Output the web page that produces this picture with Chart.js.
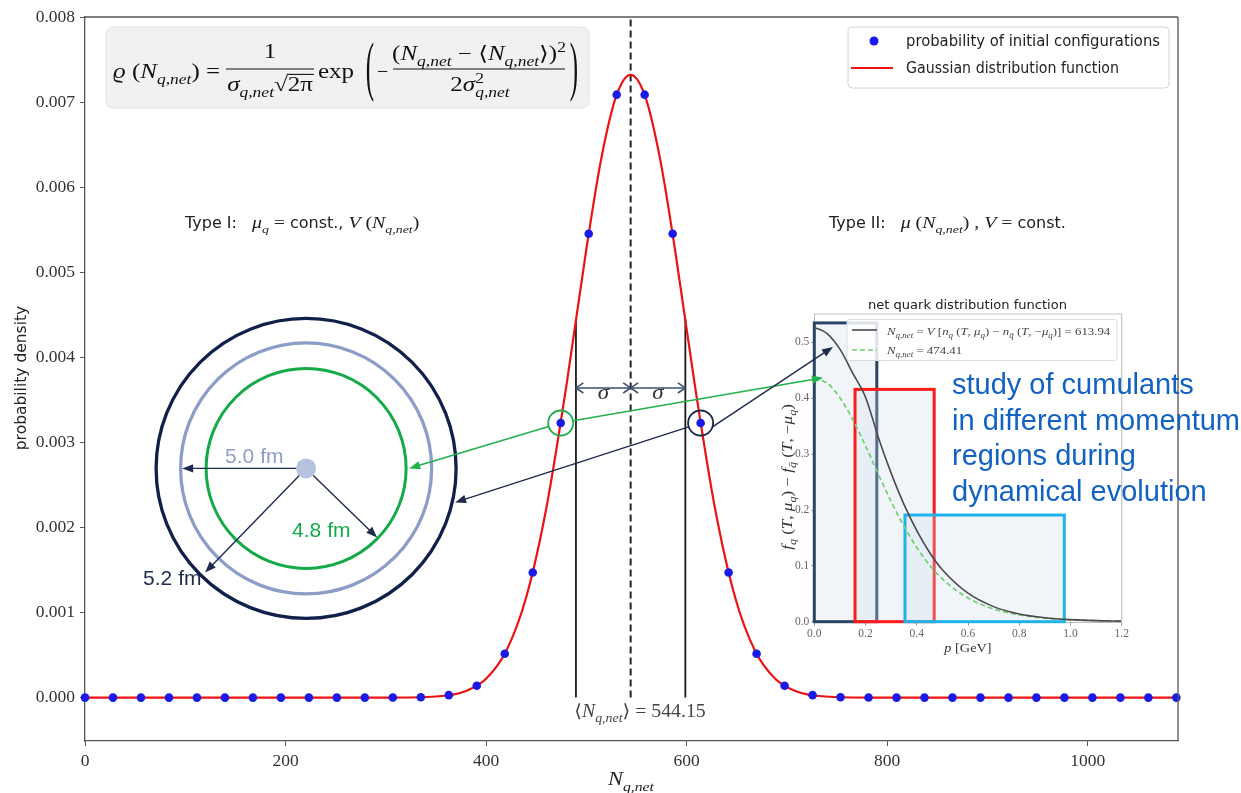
<!DOCTYPE html>
<html>
<head>
<meta charset="utf-8">
<script src="https://cdn.jsdelivr.net/npm/chart.js@4.4.0/dist/chart.umd.min.js"></script>
<style>
  html, body { margin: 0; padding: 0; background: #fff; }
  #wrap { position: relative; width: 1241px; height: 793px; overflow: hidden; background: #fff; }
  #inset { position: absolute; left: 775px; top: 290px; }
  #main { position: absolute; left: 0; top: 0; }
</style>
</head>
<body>
<div id="wrap">
  <canvas id="inset" width="360" height="370"></canvas>
  <canvas id="main" width="1241" height="793"></canvas>
</div>
<script>
// ---- main figure: net-quark-number distribution of the initial configurations ----
const nValues = [0.01, 27.92, 55.82, 83.73, 111.63, 139.54, 167.45, 195.35, 223.26, 251.16,
  279.07, 306.98, 334.88, 362.79, 390.69, 418.60, 446.51, 474.41, 502.32, 530.22,
  558.13, 586.04, 613.94, 641.85, 669.75, 697.66, 725.57, 753.47, 781.38, 809.28,
  837.19, 865.10, 893.00, 920.91, 948.81, 976.72, 1004.63, 1032.53, 1060.44, 1088.34];
const probValues = [0, 0, 0, 0, 0, 0, 0, 0, 0, 0,
  0, 0.0000006, 0.0000046, 0.0000288, 0.000139, 0.000515, 0.001471, 0.003228, 0.005453, 0.007087,
  0.007087, 0.005453, 0.003228, 0.001471, 0.000515, 0.000139, 0.0000288, 0.0000046, 0.0000006, 0,
  0, 0, 0, 0, 0, 0, 0, 0, 0, 0];
const gaussX = [0, 200, 300, 350, 380, 400, 420, 440, 460, 480, 500, 515, 530, 544.15,
  558.3, 573.3, 588.3, 608.3, 628.3, 648.3, 668.3, 688.3, 708.3, 738.3, 788.3, 900, 1090];
const gaussY = [0, 0, 0.0000003, 0.0000129, 0.0000785, 0.0002216, 0.0005466, 0.0011793, 0.0022224,
  0.0036615, 0.0052726, 0.0063443, 0.0070777, 0.0073200, 0.0070777, 0.0063443, 0.0052726,
  0.0036615, 0.0022224, 0.0011793, 0.0005466, 0.0002216, 0.0000785, 0.0000129, 0.0000003, 0, 0];
const xTicks = [0, 200, 400, 600, 800, 1000];
const yTicks = [0, 0.001, 0.002, 0.003, 0.004, 0.005, 0.006, 0.007, 0.008];
const meanN = 544.15;
const sigmaBounds = [489.6, 598.7];
const sigmaTop = 0.00445;
const sigmaArrowP = 0.00364;
const circledN = [474.41, 613.94];
const circledP = [0.003228, 0.003228];
const diagramN = 220.5;      // centre of the fireball sketch, in axis units
const diagramP = 0.002694;

// ---- inset: net quark distribution function ----
const momentum = [0, 0.05, 0.1, 0.15, 0.2, 0.25, 0.3, 0.35, 0.4, 0.45, 0.5, 0.6, 0.7, 0.8, 0.9, 1.0, 1.1, 1.2];
const fNet613 = [0.527, 0.516, 0.488, 0.445, 0.402, 0.33, 0.266, 0.21, 0.163, 0.124, 0.093, 0.051, 0.027, 0.0138, 0.0071, 0.0037, 0.0019, 0.0010];
const fNet474 = [0.436, 0.427, 0.401, 0.362, 0.315, 0.264, 0.215, 0.171, 0.133, 0.1015, 0.0765, 0.0424, 0.0228, 0.0121, 0.0064, 0.0034, 0.0018, 0.0009];
const pTicks = [0, 0.2, 0.4, 0.6, 0.8, 1.0, 1.2];
const fTicks = [0, 0.1, 0.2, 0.3, 0.4, 0.5];
const regionLo = [0, 0.159, 0.354];
const regionHi = [0.244, 0.468, 0.976];
const regionTop = [0.535, 0.416, 0.191];
const regionColor = ['#2a4468', '#ff1a1a', '#1fb3ec'];

const SERIF = "'Liberation Serif', 'DejaVu Serif', serif";
const SANS = "'DejaVu Sans', sans-serif";
const ARIAL = "'Liberation Sans', Arial, sans-serif";

// ---------- small drawing helpers ----------
// Math runs: italic ('i') / roman ('r') serif, or sans ('s'); d = 'sub' | 'sup'; nw = no advance.
// hs widens the serif glyphs so they get the proportions of a TeX math font.
function fontFor(p, size) {
  const s = size * (p.d ? 0.7 : 1);
  const f = p.f || 'i';
  if (f === 'i') return 'italic ' + s + 'px ' + SERIF;
  if (f === 'r') return s + 'px ' + SERIF;
  return s + 'px ' + SANS;
}
function partScale(p, hs) { return (p.f === 's') ? 1 : hs; }
function richWidth(ctx, parts, size, hs) {
  let w = 0;
  parts.forEach(p => {
    ctx.font = fontFor(p, size);
    if (!p.nw) w += ctx.measureText(p.t).width * partScale(p, hs) + (p.gap || 0);
  });
  return w;
}
function drawRich(ctx, parts, x, y, size, color, align, hs) {
  hs = hs || 1;
  const w = richWidth(ctx, parts, size, hs);
  let cx = align === 'center' ? x - w / 2 : (align === 'right' ? x - w : x);
  ctx.save();
  ctx.fillStyle = color; ctx.textAlign = 'left'; ctx.textBaseline = 'alphabetic';
  const pos = [];
  parts.forEach(p => {
    ctx.font = fontFor(p, size);
    const k = partScale(p, hs);
    const dy = p.d === 'sub' ? size * 0.3 : (p.d === 'sup' ? -size * 0.42 : 0);
    ctx.save(); ctx.translate(cx, y + dy); ctx.scale(k, 1); ctx.fillText(p.t, 0, 0); ctx.restore();
    const tw = ctx.measureText(p.t).width * k;
    pos.push([cx, tw]);
    if (!p.nw) cx += tw + (p.gap || 0);
  });
  ctx.restore();
  return pos;
}
function fitText(ctx, text, x, y, font, width, color) {
  ctx.save();
  ctx.font = font; ctx.fillStyle = color; ctx.textAlign = 'left'; ctx.textBaseline = 'alphabetic';
  const w = ctx.measureText(text).width;
  ctx.translate(x, y);
  ctx.scale(width / w, 1);
  ctx.fillText(text, 0, 0);
  ctx.restore();
}
function seg(ctx, x1, y1, x2, y2) {
  ctx.beginPath(); ctx.moveTo(x1, y1); ctx.lineTo(x2, y2); ctx.stroke();
}
function chevron(ctx, fx, fy, tx, ty, len) {
  const a = Math.atan2(ty - fy, tx - fx);
  const s = 0.6;
  ctx.beginPath();
  ctx.moveTo(tx - len * Math.cos(a - s), ty - len * Math.sin(a - s));
  ctx.lineTo(tx, ty);
  ctx.lineTo(tx - len * Math.cos(a + s), ty - len * Math.sin(a + s));
  ctx.stroke();
}
function arrow(ctx, fx, fy, tx, ty, color, lw) {
  const a = Math.atan2(ty - fy, tx - fx);
  const len = 11, hw = 4.2;
  ctx.save();
  ctx.strokeStyle = color; ctx.fillStyle = color; ctx.lineWidth = lw;
  seg(ctx, fx, fy, tx - (len - 2) * Math.cos(a), ty - (len - 2) * Math.sin(a));
  ctx.beginPath();
  ctx.moveTo(tx, ty);
  ctx.lineTo(tx - len * Math.cos(a) + hw * Math.sin(a), ty - len * Math.sin(a) - hw * Math.cos(a));
  ctx.lineTo(tx - len * Math.cos(a) - hw * Math.sin(a), ty - len * Math.sin(a) + hw * Math.cos(a));
  ctx.closePath(); ctx.fill();
  ctx.restore();
}
function roundRect(ctx, x, y, w, h, r) {
  ctx.beginPath();
  ctx.moveTo(x + r, y); ctx.lineTo(x + w - r, y); ctx.quadraticCurveTo(x + w, y, x + w, y + r);
  ctx.lineTo(x + w, y + h - r); ctx.quadraticCurveTo(x + w, y + h, x + w - r, y + h);
  ctx.lineTo(x + r, y + h); ctx.quadraticCurveTo(x, y + h, x, y + h - r);
  ctx.lineTo(x, y + r); ctx.quadraticCurveTo(x, y, x + r, y); ctx.closePath();
}
const QNET = { t: 'q,net', d: 'sub' };

// ---------- inset chart ----------
const insetDecor = {
  id: 'insetDecor',
  beforeDatasetsDraw(chart) {
    const { ctx, scales: { x, y } } = chart;
    ctx.save();
    const y0 = y.getPixelForValue(0);
    regionLo.forEach((lo, i) => {
      const x0 = x.getPixelForValue(lo), x1 = x.getPixelForValue(regionHi[i]);
      const yt = y.getPixelForValue(regionTop[i]);
      ctx.fillStyle = 'rgba(205,220,238,0.28)';
      ctx.fillRect(x0, yt, x1 - x0, y0 - yt);
      ctx.strokeStyle = regionColor[i]; ctx.lineWidth = 3;
      ctx.strokeRect(x0, yt, x1 - x0, y0 - yt);
    });
    ctx.restore();
  },
  afterDraw(chart) {
    const { ctx, chartArea: a } = chart;
    ctx.save();
    ctx.strokeStyle = '#c4c4c4'; ctx.lineWidth = 1.2;
    seg(ctx, a.left, a.top, a.right, a.top);
    seg(ctx, a.right, a.top, a.right, a.bottom);
    // title
    fitText(ctx, 'net quark distribution function', 93, 19, '12px ' + SANS, 199, '#222');
    // legend
    ctx.fillStyle = 'rgba(255,255,255,0.85)'; ctx.strokeStyle = '#dcdcdc'; ctx.lineWidth = 1;
    roundRect(ctx, 72, 29.5, 270, 41, 3); ctx.fill(); ctx.stroke();
    ctx.strokeStyle = '#4a4a4a'; ctx.lineWidth = 1.6;
    seg(ctx, 77, 40, 102, 40);
    ctx.strokeStyle = '#6fd16f'; ctx.lineWidth = 1.7; ctx.setLineDash([5, 3]);
    seg(ctx, 77, 60, 102, 60);
    ctx.setLineDash([]);
    drawRich(ctx, [{ t: 'N' }, QNET, { t: ' = ', f: 'r' }, { t: 'V' }, { t: ' [', f: 'r' }, { t: 'n' }, { t: 'q', d: 'sub' },
      { t: ' (', f: 'r' }, { t: 'T' }, { t: ', ', f: 'r' }, { t: 'μ' }, { t: 'q', d: 'sub' }, { t: ') − ', f: 'r' },
      { t: 'n' }, { t: 'q̄', d: 'sub' }, { t: ' (', f: 'r' }, { t: 'T' }, { t: ', −', f: 'r' }, { t: 'μ' }, { t: 'q', d: 'sub' },
      { t: ')] = 613.94', f: 'r' }], 112, 44.5, 10.5, '#444', 'left', 1.22);
    drawRich(ctx, [{ t: 'N' }, QNET, { t: ' = 474.41', f: 'r' }], 112, 64, 10.5, '#444', 'left', 1.22);
    // axis labels
    drawRich(ctx, [{ t: 'p' }, { t: ' [GeV]', f: 'r' }], 193, 362, 13, '#333', 'center', 1.1);
    ctx.translate(17, 187); ctx.rotate(-Math.PI / 2);
    drawRich(ctx, [{ t: 'f' }, { t: 'q', d: 'sub' }, { t: ' (', f: 'r' }, { t: 'T' }, { t: ', ', f: 'r' }, { t: 'μ' }, { t: 'q', d: 'sub' },
      { t: ') − ', f: 'r' }, { t: 'f' }, { t: 'q̄', d: 'sub' }, { t: ' (', f: 'r' }, { t: 'T' }, { t: ', −', f: 'r' },
      { t: 'μ' }, { t: 'q', d: 'sub' }, { t: ')', f: 'r' }], 0, 0, 14, '#333', 'center', 1.22);
    ctx.restore();
  }
};

Chart.defaults.font.family = SERIF;

const insetChart = new Chart(document.getElementById('inset'), {
  type: 'line',
  data: {
    datasets: [
      { label: 'N = 613.94', data: momentum.map((p, i) => ({ x: p, y: fNet613[i] })), borderColor: '#4a4a4a',
        borderWidth: 1.6, pointRadius: 0, cubicInterpolationMode: 'monotone', order: 0 },
      { label: 'N = 474.41', data: momentum.map((p, i) => ({ x: p, y: fNet474[i] })), borderColor: '#6fd16f',
        borderWidth: 1.7, borderDash: [5, 3], pointRadius: 0, cubicInterpolationMode: 'monotone', order: 1 }
    ]
  },
  options: {
    responsive: false, animation: false, events: [],
    layout: { padding: { top: 24, right: 13.3, left: 0, bottom: 0 } },
    plugins: { legend: { display: false }, tooltip: { enabled: false } },
    scales: {
      x: {
        type: 'linear', min: 0, max: 1.2,
        afterBuildTicks: s => { s.ticks = pTicks.map(v => ({ value: v })); },
        afterFit: s => { s.height = 37.3; },
        ticks: { autoSkip: false, maxRotation: 0, font: { size: 11.5 }, color: '#666', padding: 1, callback: v => v.toFixed(1) },
        grid: { drawOnChartArea: false, tickLength: 3, color: '#999' },
        border: { color: '#bbb' }
      },
      y: {
        type: 'linear', min: -0.0018, max: 0.551,
        afterBuildTicks: s => { s.ticks = fTicks.map(v => ({ value: v })); },
        afterFit: s => { s.width = 39.3; },
        ticks: { autoSkip: false, font: { size: 11.5 }, color: '#666', padding: 2, callback: v => v.toFixed(1) },
        grid: { drawOnChartArea: false, tickLength: 3, color: '#999' },
        border: { color: '#bbb' }
      }
    }
  },
  plugins: [insetDecor]
});

// ---------- main chart ----------
const INSET_LEFT = 775, INSET_TOP = 290;
function insetPixel(p, f) {
  return [INSET_LEFT + insetChart.scales.x.getPixelForValue(p), INSET_TOP + insetChart.scales.y.getPixelForValue(f)];
}
function edgeToward(cx, cy, r, tx, ty) {
  const a = Math.atan2(ty - cy, tx - cx);
  return [cx + r * Math.cos(a), cy + r * Math.sin(a)];
}
const HS = 1.24;   // width factor for the serif math text

const mainDecor = {
  id: 'mainDecor',
  beforeDatasetsDraw(chart) {
    const { ctx, scales: { x, y } } = chart;
    const y0 = y.getPixelForValue(0);
    const xm = x.getPixelForValue(meanN);
    ctx.save();
    ctx.strokeStyle = '#222'; ctx.lineWidth = 2; ctx.setLineDash([7, 4]);
    seg(ctx, xm, y0, xm, y.getPixelForValue(yTicks[yTicks.length - 1]));
    ctx.setLineDash([]);
    ctx.strokeStyle = '#1a1a1a'; ctx.lineWidth = 1.8;
    sigmaBounds.forEach(n => {
      const px = x.getPixelForValue(n);
      seg(ctx, px, y0, px, y.getPixelForValue(sigmaTop));
    });
    const ya = y.getPixelForValue(sigmaArrowP);
    const xl = x.getPixelForValue(sigmaBounds[0]), xr = x.getPixelForValue(sigmaBounds[1]);
    ctx.strokeStyle = '#3d4f6e'; ctx.lineWidth = 1.6;
    [[xl, xm], [xm, xr]].forEach(([a, b]) => {
      seg(ctx, a, ya, b, ya);
      chevron(ctx, a, ya, b, ya, 9);
      chevron(ctx, b, ya, a, ya, 9);
      drawRich(ctx, [{ t: 'σ' }], (a + b) / 2, ya + 11, 20, '#333', 'center', 1.15);
    });
    ctx.restore();
  },
  afterDatasetsDraw(chart) {
    const { ctx, chartArea: A, scales: { x, y } } = chart;
    ctx.save();
    // frame
    ctx.strokeStyle = '#555'; ctx.lineWidth = 1.3;
    seg(ctx, A.left, A.top, A.right, A.top);
    seg(ctx, A.right, A.top, A.right, A.bottom);

    // fireball sketch
    const cx = x.getPixelForValue(diagramN), cy = y.getPixelForValue(diagramP);
    ctx.lineWidth = 3.3;
    ctx.strokeStyle = '#10204a'; ctx.beginPath(); ctx.arc(cx, cy, 150, 0, 2 * Math.PI); ctx.stroke();
    ctx.strokeStyle = '#8c9dc8'; ctx.beginPath(); ctx.arc(cx, cy, 125.5, 0, 2 * Math.PI); ctx.stroke();
    ctx.strokeStyle = '#14aa48'; ctx.lineWidth = 3; ctx.beginPath(); ctx.arc(cx, cy, 100, 0, 2 * Math.PI); ctx.stroke();
    arrow(ctx, cx, cy, cx - 124, cy, '#1e2b4d', 1.4);
    arrow(ctx, cx, cy, cx + 71, cy + 69, '#1e2b4d', 1.4);
    arrow(ctx, cx, cy, cx - 101, cy + 104, '#1e2b4d', 1.4);
    ctx.fillStyle = '#b7c2de'; ctx.beginPath(); ctx.arc(cx, cy, 10, 0, 2 * Math.PI); ctx.fill();
    ctx.font = '21px ' + ARIAL; ctx.textAlign = 'left'; ctx.textBaseline = 'alphabetic';
    ctx.fillStyle = '#8c9dc8'; ctx.fillText('5.0 fm', cx - 81, cy - 5);
    ctx.fillStyle = '#14aa48'; ctx.fillText('4.8 fm', cx - 14, cy + 69);
    ctx.fillStyle = '#1e2b4d'; ctx.fillText('5.2 fm', cx - 163, cy + 117);

    // circled configurations and the links to the sketch and the inset
    const gx = x.getPixelForValue(circledN[0]), gy = y.getPixelForValue(circledP[0]);
    const bx = x.getPixelForValue(circledN[1]), by = y.getPixelForValue(circledP[1]);
    ctx.lineWidth = 1.8;
    ctx.strokeStyle = '#22aa4a'; ctx.beginPath(); ctx.arc(gx, gy, 12.5, 0, 2 * Math.PI); ctx.stroke();
    ctx.strokeStyle = '#1b2847'; ctx.beginPath(); ctx.arc(bx, by, 12.5, 0, 2 * Math.PI); ctx.stroke();

    const gTipL = [cx + 103, cy];
    const bTipL = [cx + 149, cy + 34];
    const gTipR = insetPixel(0.034, 0.437);
    const bTipR = insetPixel(0.073, 0.492);
    let s = edgeToward(gx, gy, 12.5, gTipL[0], gTipL[1]);
    arrow(ctx, s[0], s[1], gTipL[0], gTipL[1], '#22b04b', 1.5);
    s = edgeToward(gx, gy, 12.5, gTipR[0], gTipR[1]);
    arrow(ctx, s[0], s[1], gTipR[0], gTipR[1], '#22b04b', 1.5);
    s = edgeToward(bx, by, 12.5, bTipL[0], bTipL[1]);
    arrow(ctx, s[0], s[1], bTipL[0], bTipL[1], '#1e2b4d', 1.4);
    s = [bx + 12.5 * Math.cos(0.32), by + 12.5 * Math.sin(0.32)];
    arrow(ctx, s[0], s[1], bTipR[0], bTipR[1], '#1e2b4d', 1.4);

    // mean label
    drawRich(ctx, [{ t: '⟨', f: 'r' }, { t: 'N' }, QNET, { t: '⟩ = 544.15', f: 'r' }], 640, 717, 18, '#444', 'center', 1.1);
    ctx.restore();
  },
  afterDraw(chart) {
    const { ctx } = chart;
    ctx.save();
    // formula box
    ctx.fillStyle = '#f1f1f1'; ctx.strokeStyle = '#e2e2e2'; ctx.lineWidth = 1;
    roundRect(ctx, 106, 27, 483, 81, 8); ctx.fill(); ctx.stroke();
    const F = 20, ink = '#111', FH = 1.25;
    drawRich(ctx, [{ t: 'ϱ' }, { t: ' (', f: 'r' }, { t: 'N' }, QNET, { t: ')', f: 'r' }, { t: ' =', f: 'r' }], 113, 78, F, ink, 'left', FH);
    drawRich(ctx, [{ t: '1', f: 'r' }], 270, 58, F, ink, 'center', FH);
    ctx.strokeStyle = ink; ctx.lineWidth = 1.1;
    seg(ctx, 226, 69, 314, 69);
    const den = drawRich(ctx, [{ t: 'σ' }, QNET, { t: '√', f: 'r' }, { t: '2π', f: 'r' }], 270, 91, F, ink, 'center', FH);
    seg(ctx, den[2][0] + den[2][1] - 1, 91 - F * 0.83, den[3][0] + den[3][1] + 1, 91 - F * 0.83);
    drawRich(ctx, [{ t: 'exp', f: 'r' }], 318, 78, F, ink, 'left', FH);
    ctx.fillStyle = ink; ctx.textAlign = 'center'; ctx.textBaseline = 'middle'; ctx.font = '20px ' + SERIF;
    ctx.save(); ctx.translate(370, 71); ctx.scale(1.25, 3.3); ctx.fillText('(', 0, 0); ctx.restore();
    ctx.save(); ctx.translate(574, 71); ctx.scale(1.25, 3.3); ctx.fillText(')', 0, 0); ctx.restore();
    drawRich(ctx, [{ t: '−', f: 'r' }], 377, 78, F, ink, 'left', 1);
    drawRich(ctx, [{ t: '(', f: 'r' }, { t: 'N' }, QNET, { t: ' − ', f: 'r' }, { t: '⟨', f: 'r' }, { t: 'N' }, QNET,
      { t: '⟩', f: 'r' }, { t: ')', f: 'r' }, { t: '2', f: 'r', d: 'sup' }], 479, 60, F, ink, 'center', FH);
    seg(ctx, 393, 69, 565, 69);
    drawRich(ctx, [{ t: '2', f: 'r' }, { t: 'σ' }, { t: '2', f: 'r', d: 'sup', nw: true }, QNET], 480, 91, F, ink, 'center', FH);

    // type annotations
    drawRich(ctx, [{ t: 'Type I:', f: 's', gap: 15 }, { t: 'μ' }, { t: 'q', d: 'sub' }, { t: ' = ', f: 'r' },
      { t: 'const.,', f: 's' }, { t: ' V' }, { t: ' (', f: 'r' }, { t: 'N' }, QNET, { t: ')', f: 'r' }], 185, 228, 16, '#222', 'left', HS);
    drawRich(ctx, [{ t: 'Type II:', f: 's', gap: 15 }, { t: 'μ' }, { t: ' (', f: 'r' }, { t: 'N' }, QNET, { t: ')', f: 'r' },
      { t: ' , ', f: 'r' }, { t: 'V' }, { t: ' = ', f: 'r' }, { t: 'const.', f: 's' }], 829, 228, 16, '#222', 'left', HS);

    // legend
    ctx.fillStyle = '#fff'; ctx.strokeStyle = '#d4d4d4'; ctx.lineWidth = 1;
    roundRect(ctx, 848, 27, 321, 61, 4); ctx.fill(); ctx.stroke();
    ctx.fillStyle = '#1a1ae8'; ctx.beginPath(); ctx.arc(874, 41, 4.5, 0, 2 * Math.PI); ctx.fill();
    ctx.strokeStyle = '#ee1111'; ctx.lineWidth = 2.2; seg(ctx, 851, 68, 893, 68);
    fitText(ctx, chart.data.datasets[0].label, 906, 46, '15px ' + SANS, 254, '#222');
    fitText(ctx, chart.data.datasets[1].label, 906, 73, '15px ' + SANS, 213, '#222');

    // axis titles
    drawRich(ctx, [{ t: 'N' }, QNET], 631, 785, 19, '#222', 'center', 1.18);
    ctx.save(); ctx.translate(26, 378); ctx.rotate(-Math.PI / 2);
    ctx.font = '15.5px ' + SANS; ctx.fillStyle = '#222'; ctx.textAlign = 'center'; ctx.textBaseline = 'alphabetic';
    ctx.fillText('probability density', 0, 0);
    ctx.restore();

    // note on the momentum windows
    ctx.font = '29px ' + ARIAL; ctx.fillStyle = '#1262c4'; ctx.textAlign = 'left'; ctx.textBaseline = 'alphabetic';
    ['study of cumulants', 'in different momentum', 'regions during', 'dynamical evolution']
      .forEach((t, i) => ctx.fillText(t, 952, 394 + i * 35.5));
    ctx.restore();
  }
};

const mainChart = new Chart(document.getElementById('main'), {
  type: 'line',
  data: {
    datasets: [
      { label: 'probability of initial configurations', data: nValues.map((n, i) => ({ x: n, y: probValues[i] })),
        showLine: false, pointRadius: 4.3, pointBackgroundColor: '#1a1ae8', pointBorderWidth: 0, clip: false, order: 0 },
      { label: 'Gaussian distribution function', data: gaussX.map((n, i) => ({ x: n, y: gaussY[i] })),
        borderColor: '#ee1111', borderWidth: 2.2, pointRadius: 0, cubicInterpolationMode: 'monotone', order: 1 }
    ]
  },
  options: {
    responsive: false, animation: false, events: [],
    layout: { padding: { top: 17, right: 63, left: 0, bottom: 0 } },
    plugins: { legend: { display: false }, tooltip: { enabled: false } },
    scales: {
      x: {
        type: 'linear', min: 0, max: 1090,
        afterBuildTicks: s => { s.ticks = xTicks.map(v => ({ value: v })); },
        afterFit: s => { s.height = 52; },
        ticks: { autoSkip: false, maxRotation: 0, font: { size: 17.5 }, color: '#333', padding: 5, callback: v => String(v) },
        grid: { drawOnChartArea: false, tickLength: 5, color: '#555' },
        border: { color: '#555', width: 1.3 }
      },
      y: {
        type: 'linear', min: -0.00051, max: 0.008,
        afterBuildTicks: s => { s.ticks = yTicks.map(v => ({ value: v })); },
        afterFit: s => { s.width = 85; },
        ticks: { autoSkip: false, font: { size: 17.5 }, color: '#333', padding: 5, callback: v => v.toFixed(3) },
        grid: { drawOnChartArea: false, tickLength: 5, color: '#555' },
        border: { color: '#555', width: 1.3 }
      }
    }
  },
  plugins: [mainDecor]
});
</script>
</body>
</html>
